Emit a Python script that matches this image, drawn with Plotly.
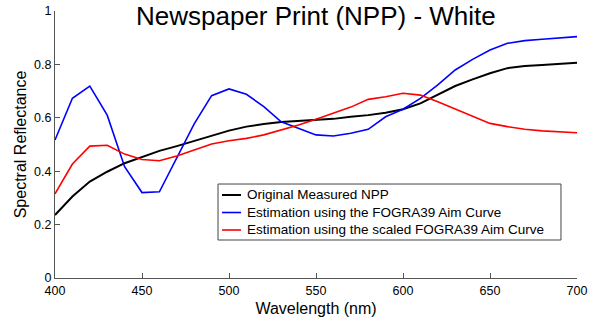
import plotly.graph_objects as go

wavelength = list(range(400, 701, 10))

original_npp = [0.236, 0.305, 0.361, 0.398, 0.430, 0.454, 0.476, 0.494, 0.513, 0.532,
                0.552, 0.567, 0.577, 0.584, 0.588, 0.592, 0.596, 0.604, 0.610, 0.619,
                0.632, 0.654, 0.685, 0.719, 0.744, 0.767, 0.786, 0.794, 0.798, 0.801, 0.806]

fogra39_est = [0.517, 0.673, 0.719, 0.610, 0.417, 0.320, 0.323, 0.450, 0.577, 0.683,
               0.708, 0.688, 0.642, 0.585, 0.560, 0.536, 0.532, 0.542, 0.557, 0.604,
               0.632, 0.673, 0.723, 0.779, 0.819, 0.854, 0.879, 0.889, 0.894, 0.900, 0.904]

scaled_fogra39_est = [0.315, 0.427, 0.494, 0.497, 0.464, 0.444, 0.439, 0.457, 0.479, 0.502,
                      0.514, 0.523, 0.536, 0.554, 0.573, 0.595, 0.617, 0.640, 0.669, 0.679,
                      0.692, 0.685, 0.660, 0.632, 0.604, 0.579, 0.567, 0.557, 0.551, 0.547, 0.544]

names = ["Original Measured NPP",
         "Estimation using the FOGRA39 Aim Curve",
         "Estimation using the scaled FOGRA39 Aim Curve"]
colors = ["#000000", "#0000ff", "#ff0000"]
widths = [2, 1.6, 1.6]
series = [original_npp, fogra39_est, scaled_fogra39_est]

font_family = "Liberation Sans, Arial, sans-serif"

fig = go.Figure()
for name, ys, c, w in zip(names, series, colors, widths):
    fig.add_trace(go.Scatter(x=wavelength, y=ys, mode="lines", name=name,
                             line=dict(color=c, width=w), showlegend=False))

# Manual legend box (MATLAB style), in paper coordinates
leg_x0, leg_x1, leg_y0, leg_y1 = 0.3123, 0.9693, 0.1423, 0.352
row_y = [0.3109, 0.2453, 0.1798]
shapes = [dict(type="rect", xref="paper", yref="paper", x0=leg_x0, x1=leg_x1,
               y0=leg_y0, y1=leg_y1, line=dict(color="#444444", width=1),
               fillcolor="white", layer="above")]
annotations = []
for name, c, w, ry in zip(names, colors, widths, row_y):
    shapes.append(dict(type="line", xref="paper", yref="paper", x0=0.3199, x1=0.3563,
                       y0=ry, y1=ry, line=dict(color=c, width=w), layer="above"))
    annotations.append(dict(text=name, x=0.3640, y=ry, xref="paper", yref="paper",
                            xanchor="left", yanchor="middle", showarrow=False,
                            font=dict(size=13.5, family=font_family, color="#000000")))

annotations.append(dict(text="Newspaper Print (NPP) - White", x=0.5, y=1.0,
                        xref="paper", yref="paper", xanchor="center", yanchor="middle",
                        yshift=-5, showarrow=False,
                        font=dict(size=26, family=font_family, color="#000000")))

axis_common = dict(showline=True, linecolor="#555555", linewidth=1, mirror=False,
                   ticks="inside", ticklen=5, tickcolor="#555555", showgrid=False,
                   zeroline=False, automargin=False,
                   tickfont=dict(size=12.5, color="#000000", family=font_family))

fig.update_layout(
    width=600, height=322,
    margin=dict(l=55, r=23, t=11, b=44),
    paper_bgcolor="white", plot_bgcolor="white",
    font=dict(family=font_family, color="#000000"),
    showlegend=False,
    xaxis=dict(range=[400, 700], tickvals=[400, 450, 500, 550, 600, 650, 700],
               ticklabelstandoff=1,
               title=dict(text="Wavelength (nm)", font=dict(size=16), standoff=5),
               **axis_common),
    yaxis=dict(range=[0, 1], tickvals=[0, 0.2, 0.4, 0.6, 0.8, 1],
               ticktext=["0", "0.2", "0.4", "0.6", "0.8", "1"],
               title=dict(text="Spectral Reflectance", font=dict(size=16), standoff=3),
               **axis_common),
    shapes=shapes,
    annotations=annotations,
)

fig.write_html("out.html")
